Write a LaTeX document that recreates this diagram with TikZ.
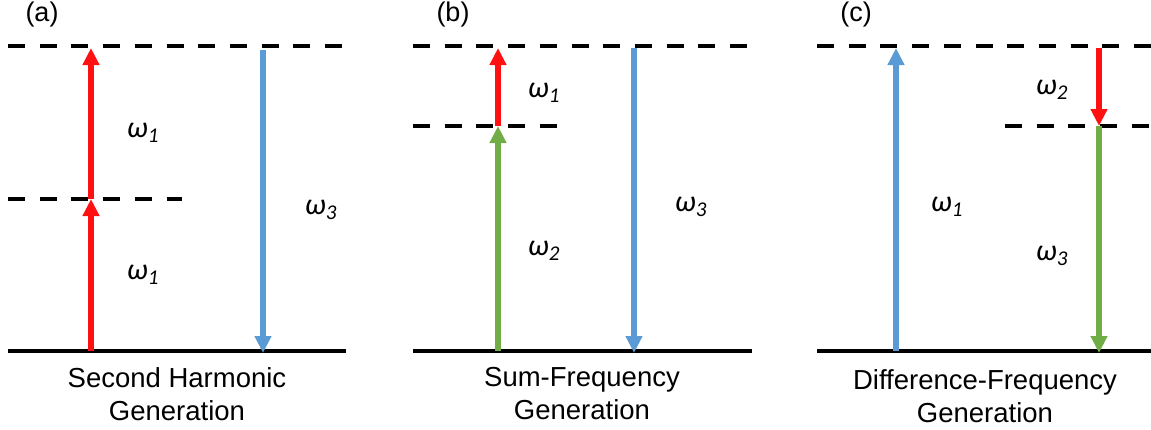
\documentclass[tikz,border=0pt]{standalone}
\usepackage{fontspec}
\setmainfont{Liberation Sans}
\newfontfamily\omegafont{Carlito}
\usetikzlibrary{arrows.meta}
\definecolor{pumpred}{RGB}{255,17,17}
\definecolor{sigblue}{RGB}{91,155,213}
\definecolor{idlergreen}{RGB}{112,173,71}
\begin{document}
\begin{tikzpicture}[x=1pt, y=-1pt,
    ground/.style={line width=4.5pt},
    virtual/.style={line width=4.5pt, dash pattern=on 17pt off 14.7pt},
    photon/.style={line width=6pt, -{Triangle[width=16pt,length=17pt]}},
    freq/.style={font=\omegafont\itshape\fontsize{30}{30}\selectfont},
    caption/.style={anchor=north, inner sep=0pt, align=center, font=\fontsize{27.5}{33}\selectfont},
    tag/.style={font=\fontsize{27}{27}\selectfont}]
    \useasboundingbox (0,0) rectangle (1151,429);
    % (a) second harmonic generation
    \coordinate (a-t1) at (8,46);   \coordinate (a-t2) at (342,46);
    \coordinate (a-m1) at (8,199);  \coordinate (a-m2) at (182,199);
    \coordinate (a-g1) at (8,351);  \coordinate (a-g2) at (346,351);
    \coordinate (a-p0) at (91,351); \coordinate (a-p1) at (91,199); \coordinate (a-p2) at (91,48);
    \coordinate (a-s0) at (263,50); \coordinate (a-s1) at (263,353);
    \draw[virtual] (a-t1)--(a-t2);
    \draw[virtual] (a-m1)--(a-m2);
    \draw[ground] (a-g1)--(a-g2);
    \draw[photon, pumpred] (a-p0)--(a-p1);
    \draw[photon, pumpred] (a-p1)--(a-p2);
    \draw[photon, sigblue] (a-s0)--(a-s1);
    \node[tag] (a-tag) at (42,15) {(a)};
    \node[freq] (a-w1) at (143,133) {ω\textsubscript{1}};
    \node[freq] (a-w2) at (143,275) {ω\textsubscript{1}};
    \node[freq] (a-w3) at (321,210) {ω\textsubscript{3}};
    \node[caption] (a-cap) at (177,367) {Second Harmonic\\Generation};
    % (b) sum-frequency generation
    \coordinate (b-t1) at (413,46);  \coordinate (b-t2) at (750,46);
    \coordinate (b-m1) at (413,126); \coordinate (b-m2) at (558,126);
    \coordinate (b-g1) at (413,351); \coordinate (b-g2) at (752,351);
    \coordinate (b-p0) at (498,351); \coordinate (b-p1) at (498,126); \coordinate (b-p2) at (498,48);
    \coordinate (b-s0) at (634,48);  \coordinate (b-s1) at (634,353);
    \draw[virtual] (b-t1)--(b-t2);
    \draw[virtual] (b-m1)--(b-m2);
    \draw[ground] (b-g1)--(b-g2);
    \draw[photon, idlergreen] (b-p0)--(b-p1);
    \draw[photon, pumpred] (b-p1)--(b-p2);
    \draw[photon, sigblue] (b-s0)--(b-s1);
    \node[tag] (b-tag) at (453,15) {(b)};
    \node[freq] (b-w1) at (544,93) {ω\textsubscript{1}};
    \node[freq] (b-w2) at (544,251) {ω\textsubscript{2}};
    \node[freq] (b-w3) at (691,207) {ω\textsubscript{3}};
    \node[caption] (b-cap) at (582,367) {Sum-Frequency\\Generation};
    % (c) difference-frequency generation
    \coordinate (c-t1) at (817,46);  \coordinate (c-t2) at (1151,46);
    \coordinate (c-m1) at (1005,126); \coordinate (c-m2) at (1151,126);
    \coordinate (c-g1) at (817,351); \coordinate (c-g2) at (1151,351);
    \coordinate (c-p0) at (896,351); \coordinate (c-p1) at (896,48);
    \coordinate (c-s0) at (1099,48); \coordinate (c-s1) at (1099,126); \coordinate (c-s2) at (1099,353);
    \draw[virtual] (c-t1)--(c-t2);
    \draw[virtual] (c-m1)--(c-m2);
    \draw[ground] (c-g1)--(c-g2);
    \draw[photon, sigblue] (c-p0)--(c-p1);
    \draw[photon, pumpred] (c-s0)--(c-s1);
    \draw[photon, idlergreen] (c-s1)--(c-s2);
    \node[tag] (c-tag) at (856,15) {(c)};
    \node[freq] (c-w1) at (947,207) {ω\textsubscript{1}};
    \node[freq] (c-w2) at (1052,90) {ω\textsubscript{2}};
    \node[freq] (c-w3) at (1052,256) {ω\textsubscript{3}};
    \node[caption] (c-cap) at (985,369) {Difference-Frequency\\Generation};
\end{tikzpicture}
\end{document}
